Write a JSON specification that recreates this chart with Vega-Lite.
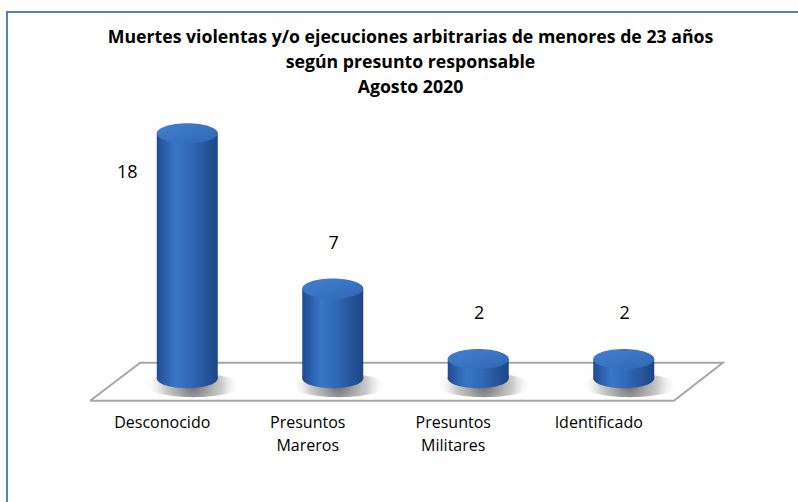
{
  "$schema": "https://vega.github.io/schema/vega-lite/v6.json",
  "width": 798,
  "height": 502,
  "autosize": {"type": "fit", "contains": "padding"},
  "padding": {"left": 7, "top": 12, "right": -6, "bottom": -6},
  "background": "white",
  "config": {"view": {"stroke": "#4f81bd", "strokeWidth": 2}, "font": "Open Sans"},
  "title": {
    "text": ["Muertes violentas y/o ejecuciones arbitrarias de menores de 23 años", "según presunto responsable", "Agosto 2020"],
    "font": "Open Sans",
    "fontSize": 17.7,
    "fontWeight": "bold",
    "color": "black",
    "lineHeight": 25,
    "offset": -85,
    "anchor": "middle",
    "frame": "group",
    "dx": 5
  },
  "datasets": {
    "muertes": [
      {"responsable": "Desconocido", "muertes": 18},
      {"responsable": "Presuntos Mareros", "muertes": 7},
      {"responsable": "Presuntos Militares", "muertes": 2},
      {"responsable": "Identificado", "muertes": 2}
    ],
    "piso": [
      {"i": 0, "px": 0.1043, "py": -0.951},
      {"i": 1, "px": 0.1671, "py": 1.746},
      {"i": 2, "px": 0.8982, "py": 1.746},
      {"i": 3, "px": 0.8367, "py": -0.951},
      {"i": 4, "px": 0.1043, "py": -0.951}
    ]
  },
  "layer": [
    {
      "data": {"name": "piso"},
      "mark": {"type": "line", "stroke": "#a6a6a6", "strokeWidth": 2},
      "encoding": {
        "x": {"field": "px", "type": "quantitative", "scale": {"domain": [0, 1], "nice": false, "zero": false}, "axis": null},
        "y": {"field": "py", "type": "quantitative", "scale": {"domain": [-8.545, 26.586], "nice": false, "zero": false}, "axis": null},
        "order": {"field": "i"}
      }
    },
    {
      "data": {"name": "muertes"},
      "encoding": {
        "x": {
          "field": "responsable",
          "type": "nominal",
          "sort": null,
          "scale": {"type": "band", "paddingOuter": 1, "paddingInner": 0.522},
          "axis": {
            "title": null,
            "domain": false,
            "ticks": false,
            "grid": false,
            "labelAngle": 0,
            "labelFont": "Open Sans",
            "labelFontSize": 16,
            "labelColor": "black",
            "labelPadding": 0,
            "offset": -94,
            "labelOffset": -25,
            "labelOverlap": false,
            "labelBaseline": "top",
            "labelLineHeight": 23,
            "labelExpr": "split(datum.label, ' ')"
          }
        },
        "y": {"field": "muertes", "type": "quantitative", "scale": {"domain": [-8.545, 26.586], "nice": false, "zero": false}, "axis": null}
      },
      "layer": [
        {
          "mark": {
            "type": "point",
            "shape": "M-1,0A1,0.25,0,1,1,1,0A1,0.25,0,1,1,-1,0Z",
            "size": 9025,
            "filled": true,
            "opacity": 1,
            "strokeWidth": 0,
            "xOffset": 6,
            "yOffset": -2,
            "fill": {"gradient": "radial", "stops": [{"offset": 0, "color": "rgba(70,70,70,0.8)"}, {"offset": 0.6, "color": "rgba(140,140,140,0.45)"}, {"offset": 1, "color": "rgba(255,255,255,0)"}]}
          },
          "encoding": {"y": {"datum": 0}}
        },
        {
          "mark": {
            "type": "point",
            "shape": "M-1,0A1,0.33,0,1,1,1,0A1,0.33,0,1,1,-1,0Z",
            "size": 3721,
            "filled": true,
            "opacity": 1,
            "strokeWidth": 0,
            "yOffset": -9,
            "fill": {"gradient": "linear", "x1": 0, "y1": 0, "x2": 1, "y2": 0, "stops": [{"offset": 0, "color": "#1f4c92"}, {"offset": 0.3, "color": "#3a76c6"}, {"offset": 0.55, "color": "#3268b6"}, {"offset": 1, "color": "#1c4585"}]}
          },
          "encoding": {"y": {"datum": 0}}
        },
        {
          "mark": {
            "type": "bar",
            "width": 61,
            "y2Offset": -9,
            "fill": {"gradient": "linear", "x1": 0, "y1": 0, "x2": 1, "y2": 0, "stops": [{"offset": 0, "color": "#1f4c92"}, {"offset": 0.3, "color": "#3a76c6"}, {"offset": 0.55, "color": "#3268b6"}, {"offset": 1, "color": "#1c4585"}]}
          },
          "encoding": {"y2": {"datum": 0}}
        },
        {
          "mark": {
            "type": "point",
            "shape": "M-1,0A1,0.33,0,1,1,1,0A1,0.33,0,1,1,-1,0Z",
            "size": 3721,
            "filled": true,
            "opacity": 1,
            "strokeWidth": 0,
            "fill": {"gradient": "linear", "x1": 0, "y1": 0, "x2": 1, "y2": 1, "stops": [{"offset": 0, "color": "#427fcf"}, {"offset": 0.5, "color": "#3a74c2"}, {"offset": 1, "color": "#2f66b2"}]}
          }
        },
        {
          "transform": [{"filter": "datum.muertes < 15"}],
          "mark": {"type": "text", "font": "Open Sans", "fontSize": 18, "color": "black", "baseline": "middle", "dy": -45, "dx": 1},
          "encoding": {"text": {"field": "muertes", "type": "quantitative"}}
        },
        {
          "transform": [{"filter": "datum.muertes >= 15"}],
          "mark": {"type": "text", "font": "Open Sans", "fontSize": 18, "color": "black", "baseline": "middle", "dy": 40, "dx": -60},
          "encoding": {"text": {"field": "muertes", "type": "quantitative"}}
        }
      ]
    }
  ],
  "resolve": {"scale": {"x": "independent"}}
}
